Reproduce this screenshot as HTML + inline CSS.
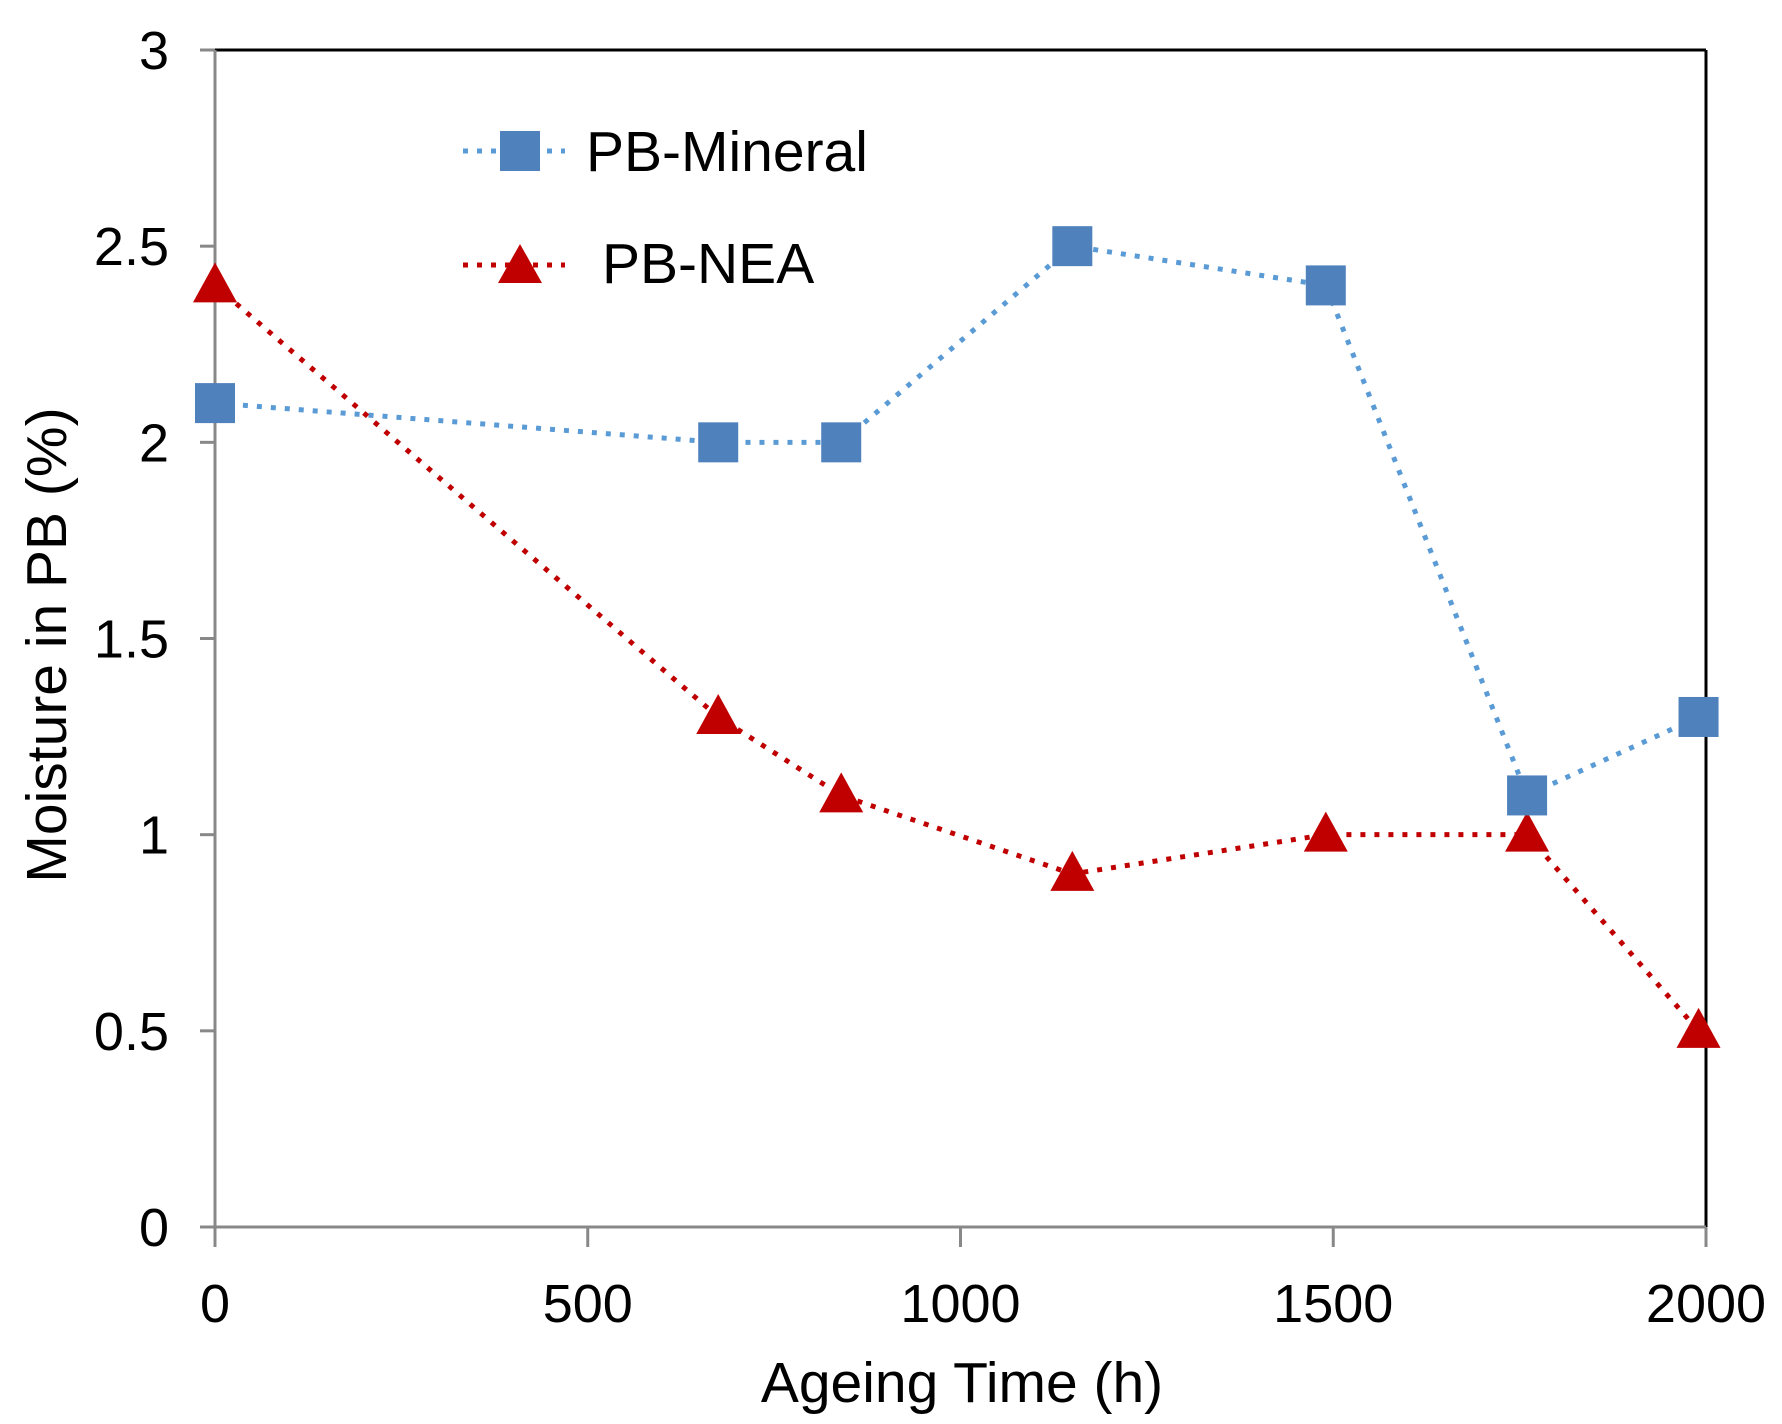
<!DOCTYPE html>
<html><head><meta charset="utf-8"><style>
html,body{margin:0;padding:0;background:#fff}
svg{display:block;font-family:"Liberation Sans",Arial,sans-serif}
</style></head><body>
<svg id="chart" width="1782" height="1424" viewBox="0 0 1782 1424" xmlns="http://www.w3.org/2000/svg">
<g id="axes"></g>
<g id="series"></g>
<g id="legend">
  <line x1="463" y1="151" x2="565" y2="151" stroke="#5b9bd5" stroke-width="5" stroke-dasharray="5,9"/>
  <rect x="500" y="131" width="40" height="40" fill="#4f81bd"/>
  <text x="586" y="171" font-size="57">PB-Mineral</text>
  <line x1="463" y1="265" x2="565" y2="265" stroke="#c00000" stroke-width="5" stroke-dasharray="5,9"/>
  <polygon points="520,244 542,283 498,283" fill="#c00000"/>
  <text x="602" y="283" font-size="57">PB-NEA</text>
</g>
<text x="962" y="1402" font-size="57" text-anchor="middle">Ageing Time (h)</text>
<text transform="translate(66,645) rotate(-90)" font-size="57" text-anchor="middle">Moisture in PB (%)</text>
</svg>
<script>
const hours = [0, 675, 840, 1150, 1490, 1760, 1990];
const mineral = [2.1, 2.0, 2.0, 2.5, 2.4, 1.1, 1.3];
const nea = [2.4, 1.3, 1.1, 0.9, 1.0, 1.0, 0.5];
const xTicks = [0, 500, 1000, 1500, 2000];
const yTicks = [0, 0.5, 1, 1.5, 2, 2.5, 3];

const L=215,R=1706,T=50,B=1227;
const xs=v=>L+(R-L)*v/2000;
const ys=v=>B-(B-T)*v/3;
const NS="http://www.w3.org/2000/svg";
function mk(tag,attrs,parent){const e=document.createElementNS(NS,tag);for(const k in attrs)e.setAttribute(k,attrs[k]);parent.appendChild(e);return e;}
const ax=document.getElementById('axes');
let e;
e=mk('line',{x1:L,y1:T,x2:R,y2:T,stroke:'#000','stroke-width':3},ax);


e=mk('line',{x1:R,y1:T,x2:R,y2:B,stroke:'#000','stroke-width':3},ax);


e=mk('line',{x1:L,y1:T,x2:L,y2:B,stroke:'#888','stroke-width':3},ax);


e=mk('line',{x1:L,y1:B,x2:R,y2:B,stroke:'#888','stroke-width':3},ax);


yTicks.forEach(v=>{
  const y=ys(v);
  let t=mk('line',{x1:L-15,y1:y,x2:L,y2:y,stroke:'#888','stroke-width':3},ax);
  
  
  let l=mk('text',{x:169,y:y+19,'font-size':54,'text-anchor':'end'},ax);
  l.textContent=String(v);
  
  
});
xTicks.forEach(v=>{
  const x=xs(v);
  let t=mk('line',{x1:x,y1:B,x2:x,y2:B+20,stroke:'#888','stroke-width':3},ax);
  
  
  let l=mk('text',{x:x,y:1322,'font-size':54,'text-anchor':'middle'},ax);
  l.textContent=String(v);
  
  
});
const sg=document.getElementById('series');
function line(vals,color,name){
  const p=mk('polyline',{points:hours.map((h,i)=>xs(h)+','+ys(vals[i])).join(' '),fill:'none',stroke:color,'stroke-width':5,'stroke-dasharray':'5,9'},sg);
  
  
}
line(mineral,'#5b9bd5','line-pb-mineral');
line(nea,'#c00000','line-pb-nea');
hours.forEach((h,i)=>{
  const x=xs(h),y=ys(nea[i]);
  const t=mk('polygon',{points:`${x},${y-23} ${x+22},${y+17} ${x-22},${y+17}`,fill:'#c00000'},sg);
  
  
});
hours.forEach((h,i)=>{
  const x=xs(h),y=ys(mineral[i]);
  const r=mk('rect',{x:x-20,y:y-20,width:40,height:40,fill:'#4f81bd'},sg);
  
  
});
</script>
</body></html>
